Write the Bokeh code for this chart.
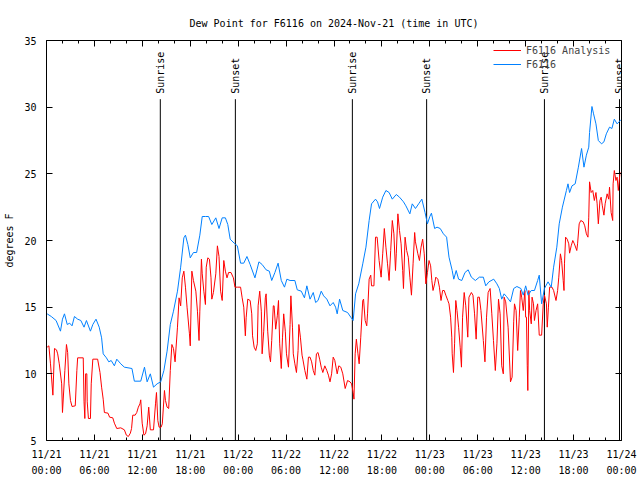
from datetime import datetime, timedelta
from math import pi

from bokeh.plotting import figure
from bokeh.models import (FixedTicker, DatetimeTickFormatter, LinearAxis, DatetimeAxis,
                          Legend, LegendItem, Range1d, ColumnDataSource)
from bokeh.core.properties import value
from bokeh.embed import file_html
from bokeh.resources import INLINE

# ---------------- data (hours after 2024-11-21 00:00 UTC, dew point in F) ----------------
obs_hours = [0.08, 0.6, 1.2, 1.75, 2.0, 2.25, 2.6, 2.9, 3.2, 3.5, 3.9, 4.3, 4.7, 5.0, 5.5, 5.8,
             6.2, 6.6, 6.9, 7.1, 7.5, 7.8, 8.1, 8.5, 8.8, 9.3, 9.75, 10.7, 11.0, 11.8, 12.27,
             12.6, 13.0, 13.4, 13.85, 14.3, 14.7, 15.1, 15.5, 15.9, 16.4, 16.8, 17.2, 17.4,
             17.7, 18.0, 18.4, 18.8, 19.2, 19.5, 19.9, 20.3, 20.7, 21.2, 21.6, 22.0, 22.4,
             22.7, 23.0, 23.5, 23.9, 24.3, 24.7, 25.1, 25.5, 26.1, 26.6, 27.0, 27.5, 27.9,
             28.2, 28.6, 29.0, 29.4, 29.8, 30.1, 30.5, 31.1, 31.4, 31.9, 32.3, 32.6, 33.0,
             33.4, 33.7, 34.0, 34.4, 34.7, 35.1, 35.5, 35.9, 36.2, 36.4, 36.7, 37.1, 37.7,
             38.1, 38.4, 38.7, 39.1, 39.6, 40.0, 40.4, 40.7, 41.2, 41.45, 41.7, 42.1, 42.5,
             42.9, 43.3, 43.8, 44.2, 44.7, 45.0, 45.5, 45.8, 46.2, 46.6, 47.0, 47.4, 47.7,
             48.0, 48.2, 48.6, 48.9, 49.3, 49.7, 50.1, 50.4, 50.8, 51.0, 51.3, 51.6, 52.0,
             52.4, 52.8, 53.2, 53.7, 54.2, 54.7, 55.0, 55.4, 56.0, 56.4, 56.7, 57.0, 57.3,
             57.6, 58.1, 58.5, 58.9, 59.4, 59.7, 60.0, 60.3, 60.7, 61.1, 61.5, 61.7, 62.0,
             62.35, 62.8, 63.2, 63.5, 63.9, 64.2, 64.6, 65.1, 65.3, 65.5, 65.8, 66.2, 66.6,
             67.0, 67.3, 67.6, 67.9, 68.0, 68.3, 68.5, 68.8, 69.1, 69.5, 69.8, 70.1, 70.5,
             70.8, 71.1, 71.45, 71.7, 71.9]
obs_dewpt = [14.5, 14.3, 14.0, 13.2, 14.1, 14.5, 13.7, 13.8, 13.6, 14.3, 14.1, 14.0, 13.5,
             14.0, 13.2, 13.7, 14.1, 13.5, 12.7, 11.5, 11.2, 10.9, 11.0, 10.6, 11.1, 10.75,
             10.5, 10.4, 9.45, 9.45, 10.5, 9.4, 10.0, 9.0, 9.25, 9.4, 10.25, 11.7, 13.7, 14.7,
             16.2, 18.0, 20.2, 20.4, 19.7, 18.7, 19.1, 19.1, 20.4, 21.8, 21.8, 21.8, 21.2,
             21.7, 20.9, 21.7, 21.7, 21.2, 20.1, 19.8, 19.6, 18.3, 18.3, 18.8, 18.2, 17.2,
             18.4, 18.2, 17.8, 17.7, 17.0, 17.6, 18.3, 17.0, 16.5, 17.1, 17.0, 17.0, 16.3,
             16.2, 15.7, 16.6, 15.6, 16.1, 15.35, 15.5, 16.2, 15.85, 15.6, 15.1, 15.35, 15.0,
             14.5, 15.6, 14.75, 14.6, 14.25, 14.0, 16.0, 16.75, 18.25, 19.5, 21.5, 22.75,
             23.1, 22.9, 22.4, 23.25, 23.75, 23.6, 23.1, 23.45, 23.25, 22.9, 22.6, 22.0, 22.75,
             22.4, 22.75, 23.1, 22.1, 21.25, 21.8, 22.05, 20.9, 21.0, 20.9, 20.5, 20.25, 18.75,
             17.75, 17.1, 17.75, 17.1, 17.0, 17.6, 17.8, 17.25, 17.0, 17.25, 17.25, 16.6,
             16.9, 17.1, 16.75, 16.4, 15.6, 16.0, 15.8, 15.4, 16.4, 16.55, 16.4, 15.9, 16.6,
             15.9, 16.25, 16.25, 17.0, 17.4, 15.25, 16.4, 16.9, 16.5, 18.0, 19.5, 21.25, 22.5,
             23.75, 24.25, 23.6, 24.1, 24.25, 25.5, 26.9, 25.5, 26.4, 27.0, 28.1, 30.05, 29.5,
             28.75, 27.5, 27.25, 27.4, 28.0, 28.5, 28.4, 29.1, 28.75, 28.9, 29.05]

ana_hours = [0.08, 0.3, 0.5, 0.8, 1.0, 1.25, 1.4, 1.6, 1.9, 2.0, 2.3, 2.5, 2.65, 2.8, 3.0, 3.2,
             3.6, 3.8, 3.9, 4.6, 4.7, 4.8, 4.9, 5.05, 5.1, 5.25, 5.5, 5.6, 5.8, 6.4, 6.7, 6.9,
             7.1, 7.25, 7.7, 7.9, 8.3, 8.5, 8.8, 9.3, 9.75, 10.0, 10.25, 10.5, 10.65, 10.8,
             11.1, 11.3, 11.5, 11.7, 11.8, 11.98, 12.2, 12.4, 12.6, 12.8, 13.0, 13.4, 13.65,
             13.77, 13.94, 14.1, 14.35, 14.5, 14.77, 14.9, 15.1, 15.3, 15.5, 15.7, 15.9, 16.1,
             16.4, 16.6, 16.8, 17.0, 17.2, 17.4, 17.6, 17.9, 18.0, 18.2, 18.4, 18.7, 18.9,
             19.1, 19.2, 19.4, 19.5, 19.7, 19.9, 20.0, 20.2, 20.4, 20.6, 20.7, 20.9, 21.2,
             21.4, 21.6, 21.8, 22.0, 22.2, 22.4, 22.6, 22.8, 23.1, 23.4, 23.6, 23.9, 24.3,
             24.5, 24.7, 24.9, 25.0, 25.2, 25.5, 25.7, 25.8, 26.0, 26.2, 26.4, 26.5, 26.7,
             26.9, 27.0, 27.2, 27.4, 27.5, 27.7, 27.9, 28.05, 28.2, 28.4, 28.5, 28.7, 28.9,
             29.05, 29.2, 29.4, 29.55, 29.7, 29.9, 30.05, 30.3, 30.5, 30.6, 30.8, 30.9, 31.1,
             31.3, 31.5, 31.6, 31.8, 32.0, 32.1, 32.35, 32.6, 32.8, 33.0, 33.2, 33.4, 33.6,
             33.8, 34.0, 34.2, 34.4, 34.6, 34.85, 35.1, 35.3, 35.5, 35.7, 35.9, 36.1, 36.4,
             36.6, 36.85, 37.1, 37.4, 37.7, 38.0, 38.2, 38.4, 38.5, 38.65, 38.8, 39.0, 39.15,
             39.35, 39.6, 39.7, 39.9, 40.1, 40.2, 40.4, 40.6, 40.7, 41.0, 41.2, 41.4, 41.65,
             41.9, 42.1, 42.3, 42.5, 42.7, 42.9, 43.1, 43.3, 43.5, 43.7, 43.8, 44.0, 44.2,
             44.4, 44.6, 44.7, 44.9, 45.1, 45.3, 45.5, 45.7, 45.9, 46.1, 46.2, 46.5, 46.7,
             46.9, 47.1, 47.3, 47.5, 47.7, 47.9, 48.1, 48.25, 48.4, 48.6, 48.75, 49.0, 49.2,
             49.4, 49.6, 49.8, 50.0, 50.25, 50.4, 50.6, 50.75, 50.8, 50.96, 51.1, 51.25, 51.4,
             51.6, 51.8, 51.96, 52.1, 52.3, 52.5, 52.75, 52.9, 53.2, 53.4, 53.6, 53.8, 54.0,
             54.2, 54.4, 54.7, 54.9, 55.1, 55.3, 55.55, 55.76, 55.97, 56.2, 56.4, 56.6, 56.8,
             57.0, 57.2, 57.3, 57.5, 57.8, 58.1, 58.3, 58.5, 58.6, 58.8, 59.0, 59.2, 59.35,
             59.5, 59.7, 59.9, 60.0, 60.1, 60.2, 60.27, 60.4, 60.5, 60.7, 60.8, 60.98, 61.1,
             61.3, 61.5, 61.7, 62.0, 62.2, 62.35, 62.6, 62.7, 62.85, 63.0, 63.3, 63.5, 63.8,
             64.0, 64.15, 64.35, 64.5, 64.7, 64.8, 64.86, 65.0, 65.2, 65.4, 65.5, 65.7, 65.9,
             66.1, 66.4, 66.5, 66.7, 66.9, 67.2, 67.4, 67.6, 67.8, 67.9, 68.0, 68.2, 68.4,
             68.6, 68.8, 68.95, 69.1, 69.3, 69.45, 69.6, 69.8, 69.95, 70.2, 70.4, 70.5, 70.7,
             70.9, 70.95, 71.1, 71.3, 71.45, 71.6, 71.8, 71.9]
ana_dewpt = [12.0, 12.1, 10.75, 8.4, 11.9, 11.8, 11.5, 10.75, 9.25, 7.1, 10.25, 12.2, 11.6,
             9.25, 8.0, 7.55, 7.6, 10.25, 11.2, 11.2, 7.9, 6.65, 10.0, 10.0, 7.9, 6.65, 6.65,
             9.25, 11.1, 11.1, 10.1, 9.0, 8.1, 7.1, 7.05, 6.75, 6.7, 6.3, 5.9, 5.95, 5.8, 5.4,
             5.3, 5.55, 5.9, 6.9, 6.9, 7.1, 7.5, 7.75, 8.05, 6.3, 5.4, 5.5, 6.1, 7.5, 5.8, 5.8,
             7.75, 8.6, 6.5, 6.0, 6.0, 6.25, 8.75, 8.0, 7.5, 7.4, 10.25, 12.2, 11.9, 10.9,
             13.5, 15.7, 15.1, 17.2, 17.7, 16.5, 15.0, 13.0, 12.1, 17.7, 17.0, 16.2, 14.7,
             12.5, 14.7, 18.6, 17.5, 16.2, 15.2, 18.0, 18.7, 18.6, 17.2, 15.6, 16.1, 17.5,
             19.6, 18.8, 16.2, 15.5, 18.5, 17.7, 17.2, 17.6, 17.6, 17.2, 16.5, 16.5, 16.5,
             15.7, 15.0, 12.85, 14.2, 15.6, 15.5, 14.5, 12.85, 12.0, 11.75, 12.25, 15.1, 16.2,
             14.7, 11.5, 13.2, 15.7, 16.0, 13.2, 11.4, 10.9, 12.5, 15.1, 15.1, 13.35, 14.35,
             15.5, 12.25, 10.4, 12.7, 14.5, 13.2, 11.5, 10.5, 13.7, 15.85, 13.5, 11.5, 10.75,
             10.1, 11.75, 13.7, 12.7, 11.4, 11.1, 10.25, 9.6, 11.25, 11.25, 10.9, 10.25, 9.9,
             11.5, 11.6, 11.1, 10.5, 10.1, 10.6, 10.25, 9.9, 9.4, 10.0, 11.25, 11.0, 10.0,
             10.6, 10.5, 10.0, 8.9, 9.5, 9.4, 9.25, 8.6, 8.1, 11.5, 12.6, 11.5, 10.75, 12.75,
             15.5, 15.6, 14.0, 13.6, 14.5, 17.1, 17.4, 16.6, 16.6, 20.25, 20.25, 18.5, 17.25,
             19.0, 20.9, 19.5, 18.25, 17.0, 19.25, 21.5, 20.5, 17.75, 19.0, 22.0, 20.75,
             19.75, 17.75, 16.4, 20.25, 19.25, 18.75, 17.25, 15.9, 18.25, 20.6, 19.9, 19.0,
             18.5, 19.5, 20.1, 19.0, 16.75, 17.6, 18.5, 18.1, 17.0, 16.25, 16.75, 17.25, 17.1,
             16.5, 15.5, 16.25, 16.25, 15.9, 15.5, 15.25, 14.25, 12.75, 11.5, 10.1, 12.25,
             15.5, 14.75, 13.5, 12.0, 10.5, 14.25, 16.1, 15.1, 12.75, 15.75, 16.1, 15.9, 14.5,
             12.6, 15.75, 15.75, 14.75, 12.5, 10.9, 14.25, 16.1, 16.4, 14.5, 12.5, 10.25,
             12.25, 15.6, 14.5, 10.6, 10.0, 15.75, 15.4, 13.5, 9.4, 9.75, 13.9, 15.25, 14.75,
             11.75, 14.25, 16.25, 15.75, 14.75, 16.25, 14.25, 14.25, 10.6, 8.75, 16.25, 14.75,
             13.75, 15.75, 15.25, 14.0, 14.75, 15.25, 12.9, 12.9, 15.25, 15.9, 15.25, 13.5,
             15.0, 16.5, 16.5, 16.25, 15.5, 16.25, 17.25, 19.0, 18.5, 17.0, 16.25, 18.25,
             20.25, 20.1, 19.75, 19.05, 19.6, 20.0, 19.75, 19.25, 19.75, 21.25, 21.5, 21.4,
             21.1, 20.5, 20.25, 21.75, 24.4, 23.6, 23.75, 23.0, 23.6, 22.75, 21.25, 23.0,
             23.25, 22.6, 21.9, 22.75, 23.5, 23.1, 24.0, 22.1, 21.5, 24.25, 25.25, 24.5,
             24.75, 23.75, 25.0, 25.1]

sun_hours = [14.25, 23.65, 38.3, 47.6, 62.35, 71.75]
sun_labels = ["Sunrise", "Sunset", "Sunrise", "Sunset", "Sunrise", "Sunset"]

y_ticks = [5, 10, 15, 20, 25, 30, 35]
x_tick_hours = [0, 6, 12, 18, 24, 30, 36, 42, 48, 54, 60, 66, 72]

start = datetime(2024, 11, 21, 0, 0)


def to_dt(hours):
    return [start + timedelta(hours=h) for h in hours]


def to_ms(hours):
    return [(start + timedelta(hours=h) - datetime(1970, 1, 1)).total_seconds() * 1000.0
            for h in hours]


FONT = "DejaVu Sans Mono"
FS = "10px"

p = figure(width=640, height=480, x_axis_type="datetime", output_backend="svg",
           toolbar_location=None,
           x_range=Range1d(start, start + timedelta(hours=72)),
           y_range=Range1d(5, 35),
           min_border_left=46, min_border_right=19, min_border_top=40,
           min_border_bottom=40)

p.title.text = "Dew Point for F6116 on 2024-Nov-21 (time in UTC)"
p.title.align = "center"
p.title.text_font = FONT
p.title.text_font_size = FS
p.title.text_font_style = "normal"
p.title.text_color = "black"
p.title.standoff = 23

p.grid.visible = False
p.outline_line_color = "black"
p.outline_line_width = 1
p.background_fill_color = "white"
p.border_fill_color = "white"

# sunrise / sunset markers
sun_src = ColumnDataSource(dict(t=to_dt(sun_hours), label=sun_labels))
p.segment(x0="t", y0=5, x1="t", y1=30.6, source=sun_src, line_color="black", line_width=1)
p.text(x="t", y=31.0, text="label", source=sun_src, angle=pi / 2, text_align="left",
       text_baseline="middle", text_font=value(FONT), text_font_size=FS, text_color="black")

r_ana = p.line(to_dt(ana_hours), ana_dewpt, line_color="#ff0000", line_width=1)
r_obs = p.line(to_dt(obs_hours), obs_dewpt, line_color="#0080ff", line_width=1)

minor_hours = [h for h in range(0, 73, 2) if h % 6 != 0]
xticker = FixedTicker(ticks=to_ms(x_tick_hours), minor_ticks=to_ms(minor_hours))
yticker = FixedTicker(ticks=y_ticks, minor_ticks=[])
fmt = "%m/%d\n%H:%M"
xfmt = DatetimeTickFormatter(milliseconds=fmt, seconds=fmt, minsec=fmt, minutes=fmt,
                             hourmin=fmt, hours=fmt, days=fmt, months=fmt, years=fmt,
                             context=None)

xa = p.xaxis[0]
xa.ticker = xticker
xa.formatter = xfmt
ya = p.yaxis[0]
ya.ticker = yticker
ya.axis_label = "degrees F"

for ax in (xa, ya):
    ax.axis_line_color = None
    ax.major_tick_in = 6
    ax.major_tick_out = 0
    ax.minor_tick_in = 3
    ax.minor_tick_out = 0
    ax.major_tick_line_color = "black"
    ax.minor_tick_line_color = "black"
    ax.major_label_text_font = FONT
    ax.major_label_text_font_size = FS
    ax.major_label_text_color = "black"
    ax.axis_label_text_font = FONT
    ax.axis_label_text_font_size = FS
    ax.axis_label_text_font_style = "normal"
    ax.axis_label_text_color = "black"

xa.major_label_standoff = 8
xa.major_label_text_line_height = 1.5
ya.major_label_standoff = 10
ya.axis_label_standoff = 6

# mirrored ticks on top and right (no labels)
top = DatetimeAxis(ticker=xticker, formatter=xfmt)
right = LinearAxis(ticker=yticker)
for ax in (top, right):
    ax.axis_line_color = None
    ax.major_tick_in = 6
    ax.major_tick_out = 0
    ax.minor_tick_in = 3
    ax.minor_tick_out = 0
    ax.major_label_text_color = None
    ax.major_label_text_font_size = "1px"
    ax.major_label_standoff = 0
p.add_layout(top, "above")
p.add_layout(right, "right")

legend = Legend(items=[LegendItem(label="F6116 Analysis", renderers=[r_ana]),
                       LegendItem(label="F6116", renderers=[r_obs])],
                location=(445, 368), label_text_font=FONT, label_text_font_size=FS,
                glyph_width=28, glyph_height=12, label_height=12, spacing=2, padding=2,
                margin=0, background_fill_alpha=0, border_line_alpha=0)
p.add_layout(legend)

open("out.html", "w").write(file_html(p, INLINE))
